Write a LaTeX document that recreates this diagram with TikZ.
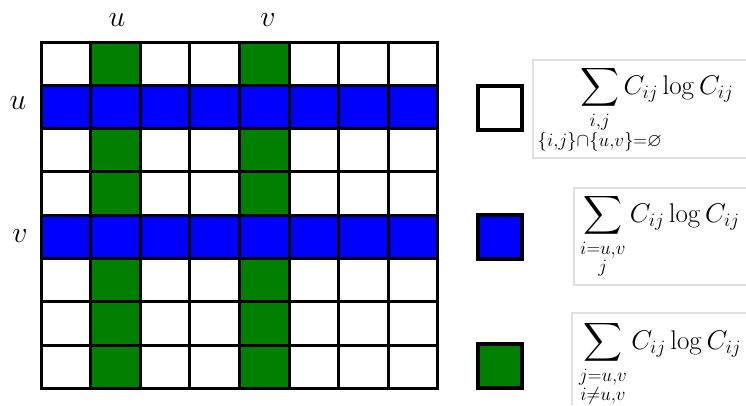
\RequirePackage{fix-cm}
\documentclass[tikz,border=0pt]{standalone}
\usepackage{amssymb}
\usepackage{amsmath}
\usepackage{mathtools}
\usepackage[dvipsnames]{xcolor}

\definecolor{rowblue}{RGB}{0,0,255}
\definecolor{colgreen}{RGB}{0,128,0}

\begin{document}
\begin{tikzpicture}[x=1pt,y=-1pt,
  cell/.style={draw=black,line width=3pt},
  keybox/.style={draw=black,line width=3.5pt,minimum size=44pt,inner sep=0pt},
  axislabel/.style={inner sep=0pt,font=\fontsize{30}{34}\selectfont},
  formula/.style={inner sep=0pt,anchor=north west,font=\fontsize{27}{32}\selectfont},
  frame/.style={draw=gray!25,line width=1.5pt}]
\useasboundingbox (0,0) rectangle (746,405);

% the 8x8 grid, rows u,v blue and columns u,v green
\foreach \r in {0,...,7}{
  \foreach \c in {0,...,7}{
    \ifnum\r=1 \def\fc{rowblue}\else\ifnum\r=4 \def\fc{rowblue}\else
      \ifnum\c=1 \def\fc{colgreen}\else\ifnum\c=4 \def\fc{colgreen}\else
        \def\fc{white}\fi\fi\fi\fi
    \fill[\fc] ({41+49.6*\c},{42+43.3*\r}) rectangle ++(49.6,43.3);
  }
}
\foreach \k in {0,...,8}{
  \draw[cell,line cap=rect] ({41+49.6*\k},42) -- ({41+49.6*\k},388.4);
  \draw[cell,line cap=rect] (41,{42+43.3*\k}) -- (437.8,{42+43.3*\k});
}

\node[axislabel] (colu) at (117,20) {$u$};
\node[axislabel] (colv) at (268,20) {$v$};
\node[axislabel] (rowu) at (18,103) {$u$};
\node[axislabel] (rowv) at (20,236) {$v$};

% key
\node[keybox,fill=white] (keyw) at (500,108) {};
\node[keybox,fill=rowblue] (keyb) at (500,237) {};
\node[keybox,fill=colgreen] (keyg) at (500,366) {};

\draw[frame] (746,60) -- (533,60) -- (533,158) -- (746,158);
\draw[frame] (746,188) -- (574,188) -- (574,285) -- (746,285);
\draw[frame] (746,313) -- (572,313) -- (572,405);

\node[formula] (sumw) at (580,66)
  {$\displaystyle\sum_{\substack{i,j\\ \mathclap{\{i,j\}\cap\{u,v\}=\varnothing}}} C_{ij}\log C_{ij}$};
\node[formula] (sumb) at (580,194)
  {$\displaystyle\sum_{\substack{i=u,v\\ j}} C_{ij}\log C_{ij}$};
\node[formula] (sumg) at (579,321)
  {$\displaystyle\sum_{\substack{j=u,v\\ i\neq u,v}} C_{ij}\log C_{ij}$};

\end{tikzpicture}
\end{document}
